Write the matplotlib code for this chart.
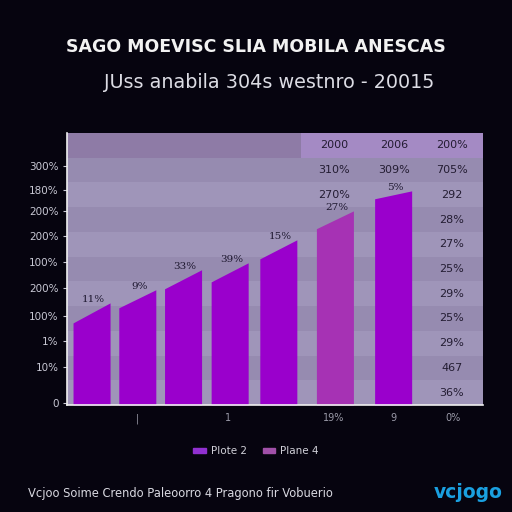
import numpy as np
import matplotlib.pyplot as plt

# bar data (x position in slot units, left/right top heights in band units)
bar_x = [0.59, 1.69, 2.79, 3.91, 5.08, 6.44, 7.84]
bar_left = [3.32, 3.93, 4.70, 4.98, 5.91, 7.13, 8.34]
bar_right = [4.13, 4.66, 5.47, 5.75, 6.68, 7.85, 8.66]
bar_labels = ["11%", "9%", "33%", "39%", "15%", "27%", "5%"]
bar_series = [0, 0, 0, 0, 0, 1, 0]

series_names = ["Plote 2", "Plane 4"]
series_colors = ["#9a00cc", "#a632b4"]

ytick_pos = [9.68, 8.7, 7.85, 6.84, 5.79, 4.74, 3.6, 2.59, 1.54, 0.08]
ytick_labels = ["300%", "180%", "200%", "200%", "100%", "200%", "100%", "1%", "10%", "0"]

xtick_pos = [1.69, 3.87, 6.42, 7.84, 9.28]
xtick_labels = ["|", "1", "19%", "9", "0%"]

# table-like columns at the right
col_x = [6.42, 7.86, 9.25]
col_rows = [10.5, 9.5, 8.5, 7.5, 6.5, 5.5, 4.5, 3.5, 2.5, 1.5, 0.5]
col_a = ["2000", "310%", "270%"]
col_b = ["2006", "309%"]
col_c = ["200%", "705%", "292", "28%", "27%", "25%", "29%", "25%", "29%", "467", "36%"]

bg = "#06040f"
fig = plt.figure(figsize=(5.12, 5.12), dpi=100, facecolor=bg)
ax = fig.add_axes([67/512, 1 - 405/512, 416/512, 272/512])
ax.set_xlim(0, 10)
ax.set_ylim(0, 11)
ax.set_facecolor("#988cb2")

# horizontal bands
band_cols = ["#9f95b9", "#968bb0"]
for i in range(11):
    ax.axhspan(i, i + 1, color=band_cols[i % 2], lw=0, zorder=0)
ax.axhspan(10, 11, color="#8e7ba6", lw=0, zorder=0.5)
ax.axhspan(10, 11, xmin=(301 - 67) / 416, color="#a48ac4", lw=0, zorder=0.6)

w = 0.89
for x, hl, hr, lab, s in zip(bar_x, bar_left, bar_right, bar_labels, bar_series):
    ax.fill_between([x - w / 2, x + w / 2], 0, [hl, hr], color=series_colors[s], lw=0, zorder=2)
    ax.text(x + 0.05, hr + 0.15, lab, ha="center", va="center", fontsize=7.5,
            color="#1e1830", family="DejaVu Serif", zorder=3)

for cx, vals in zip(col_x, [col_a, col_b, col_c]):
    for r, v in zip(col_rows, vals):
        ax.text(cx, r, v, ha="center", va="center", fontsize=8, color="#231c32", zorder=3)

for s in ["top", "right"]:
    ax.spines[s].set_visible(False)
ax.spines["left"].set_color("#f0f0f0")
ax.spines["bottom"].set_color("#f0f0f0")
ax.spines["left"].set_linewidth(1.2)
ax.spines["bottom"].set_linewidth(1.2)

ax.set_yticks(ytick_pos)
ax.set_yticklabels(ytick_labels)
ax.set_xticks(xtick_pos)
ax.set_xticklabels(xtick_labels)
ax.tick_params(axis="y", colors="#c8c8d4", labelsize=7.5, length=3, pad=3)
ax.tick_params(axis="x", colors="#9a9aa8", labelsize=7, length=0, pad=6)

fig.text(0.5, 1 - 47/512, "SAGO MOEVISC SLIA MOBILA ANESCAS", ha="center", va="center",
         fontsize=12.5, fontweight="bold", color="#f2f2f2")
fig.text(269/512, 1 - 82/512, "JUss anabila 304s westnro - 20015", ha="center", va="center",
         fontsize=13.8, color="#dcdce4")

handles = [plt.Rectangle((0, 0), 1, 1, color=c) for c in ["#9030d0", "#a050a8"]]
fig.legend(handles, series_names, loc="center", bbox_to_anchor=(0.5, 1 - 451/512), ncol=2,
           frameon=False, fontsize=7.5, labelcolor="#d0d0d8", handlelength=1.2,
           handleheight=0.4, columnspacing=1.5, handletextpad=0.5)

fig.text(28/512, 1 - 493/512, "Vcjoo Soime Crendo Paleoorro 4 Pragono fir Vobuerio", ha="left",
         va="center", fontsize=8.3, color="#d8d8e0")
fig.text(503/512, 1 - 493/512, "vcjogo", ha="right", va="center", fontsize=13.5,
         fontweight="bold", color="#1aa0e0")

fig.savefig("out.png", dpi=100, facecolor=bg)
